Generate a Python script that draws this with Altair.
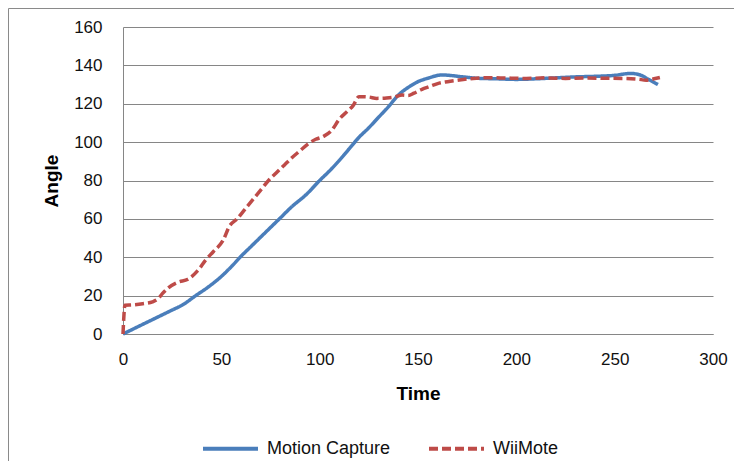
import altair as alt
import pandas as pd

# Motion Capture series
t_mc = [0, 5, 10, 15, 20, 25, 30, 37, 44, 50, 55, 60, 65, 70, 75, 80, 86, 93, 100, 105,
        110, 115, 120, 125, 130, 135, 140, 145, 150, 155, 162, 173, 180, 190, 200, 210,
        220, 230, 240, 250, 258, 263, 267, 272]
v_mc = [0, 2.5, 5, 7.5, 10, 12.5, 15, 20, 25, 30, 35, 40.5, 45.5, 50.5, 55.5, 60.5, 66.5,
        72.5, 80, 85, 90.5, 96.5, 102.5, 107.5, 113, 118.5, 124.5, 128.5, 131.5, 133.3, 135,
        134, 133.3, 133, 132.7, 133, 133.5, 134, 134.3, 134.8, 135.8, 135, 132.8, 130]

# WiiMote series
t_wii = [0, 1, 5, 10, 15, 18, 20, 23, 28, 33, 38, 42, 46, 51, 54, 58, 62, 66, 70, 74, 78,
         82, 86, 90, 94, 98, 102, 106, 110, 114, 117, 120, 125, 129, 134, 138, 142, 145,
         148, 152, 156, 160, 165, 171, 178, 186, 195, 205, 215, 225, 235, 245, 255, 262,
         266, 270, 273]
v_wii = [0, 15, 15.2, 15.8, 16.8, 18.5, 21, 24, 27, 28.5, 33, 38.5, 43, 49, 56, 60, 65, 70,
         75, 80, 84, 88, 92, 95.5, 99, 101.5, 103, 106, 112, 116, 119, 123.7, 123.5, 122.8,
         123, 123.5, 124.5, 124.3, 125.5, 127.5, 129, 130.5, 131.5, 132.4, 133.2, 133.6,
         133.4, 133.2, 133.5, 133.2, 133.4, 133.3, 133.2, 132.8, 132.3, 133, 133.7]

series_names = ["Motion Capture", "WiiMote"]
series_colors = ["#4A7EBB", "#BE4B48"]
x_ticks = [0, 50, 100, 150, 200, 250, 300]
y_ticks = [0, 20, 40, 60, 80, 100, 120, 140, 160]

df = pd.concat([
    pd.DataFrame({"Time": t_mc, "Angle": v_mc, "Series": series_names[0], "order": range(len(t_mc))}),
    pd.DataFrame({"Time": t_wii, "Angle": v_wii, "Series": series_names[1], "order": range(len(t_wii))}),
])

W, H = 590, 307
PL, PT, PR, PB = 115, 19, 21, 127

lines = alt.Chart(df).mark_line(strokeWidth=3.5, interpolate="monotone").encode(
    x=alt.X("Time:Q",
            scale=alt.Scale(domain=[0, 300], nice=False),
            axis=alt.Axis(values=x_ticks, title="Time", grid=False, ticks=False, tickSize=0,
                          labelFlush=False, labelPadding=17, labelFontSize=17,
                          titleFontSize=19, titleFontWeight="bold",
                          titleBaseline="alphabetic", titleY=65,
                          domainColor="#868686", labelColor="#111111", titleColor="#000000")),
    y=alt.Y("Angle:Q",
            scale=alt.Scale(domain=[0, 160], nice=False),
            axis=alt.Axis(values=y_ticks, title="Angle", grid=True, gridColor="#868686",
                          gridWidth=1, ticks=False, tickSize=0, labelPadding=21,
                          labelFontSize=17, titleFontSize=19, titleFontWeight="bold",
                          titleBaseline="middle", titleX=-72, titleY=H / 2,
                          domainColor="#868686", labelColor="#111111", titleColor="#000000")),
    color=alt.Color("Series:N",
                    scale=alt.Scale(domain=series_names, range=series_colors),
                    legend=alt.Legend(title=None, orient="none", legendX=78, legendY=392,
                                      direction="horizontal", symbolType="stroke",
                                      symbolSize=3025, symbolStrokeWidth=4,
                                      labelFontSize=18, labelOffset=7, columnPadding=30,
                                      labelColor="#111111")),
    strokeDash=alt.StrokeDash("Series:N",
                              scale=alt.Scale(domain=series_names, range=[[1, 0], [9, 4]]),
                              legend=None),
    order="order:Q",
)

border = alt.Chart(pd.DataFrame({"a": [0]})).mark_rect(
    fillOpacity=0, stroke="#8a8a8a", strokeWidth=1
).encode(
    x=alt.value(-PL + 0.5), x2=alt.value(W + PR + 20),
    y=alt.value(-PT + 0.5), y2=alt.value(H + PB + 20),
)

chart = alt.layer(border, lines).properties(
    width=W, height=H,
    autosize=alt.AutoSizeParams(type="none"),
    padding={"left": PL, "top": PT, "right": PR, "bottom": PB},
).configure(font="Liberation Sans").configure_view(strokeWidth=0)

chart.save("out.html", embed_options={"renderer": "svg", "actions": False})
